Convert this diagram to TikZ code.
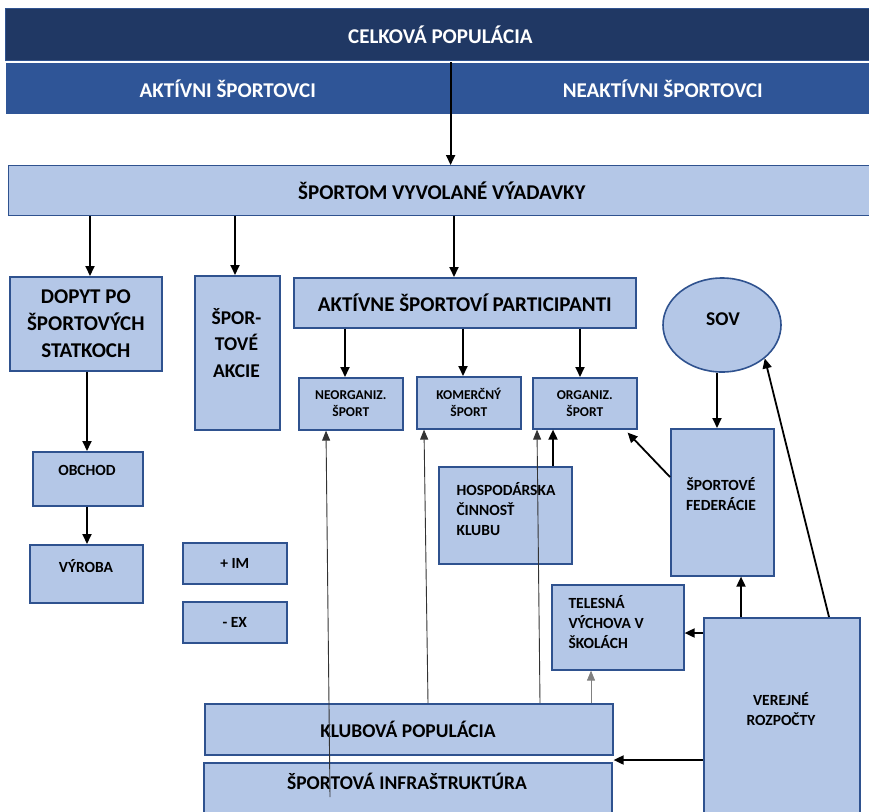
\documentclass[tikz,border=0pt]{standalone}
\usepackage{fontspec}
\setmainfont{Carlito}
\usetikzlibrary{arrows.meta,shapes.geometric}
\definecolor{navy}{HTML}{203864}
\definecolor{midblue}{HTML}{2F5597}
\definecolor{light}{HTML}{B4C7E7}
\definecolor{rim}{HTML}{2F528F}
\tikzset{
  box/.style={draw=rim, line width=1.6pt, fill=light, anchor=north west, inner sep=0pt, align=center},
  bigtxt/.style={font=\bfseries\fontsize{21}{27}\selectfont, align=center},
  midtxt/.style={font=\bfseries\fontsize{19.5}{26.5}\selectfont, align=center},
  smalltxt/.style={font=\bfseries\fontsize{15.5}{20}\selectfont, align=center},
  tinytxt/.style={font=\bfseries\fontsize{13.5}{17}\selectfont, align=center},
  arr/.style={-{Triangle[length=10pt,width=9pt]}, line width=1.8pt},
  slim/.style={-{Triangle[length=10pt,width=8pt]}, line width=0.9pt, black!80},
}
\begin{document}
\begin{tikzpicture}[x=1pt,y=-1pt]
    \useasboundingbox (0,0) rectangle (869,811);
    \clip (0,0) rectangle (869,811);
    \node[box, fill=navy, line width=0.8pt, text=white, bigtxt, minimum width=870pt, minimum height=52pt] (celk) at (5,8) {CELKOVÁ POPULÁCIA};
    \node[box, fill=midblue, draw=none, text=white, bigtxt, minimum width=444pt, minimum height=51pt] (akt) at (5,62) {AKTÍVNI ŠPORTOVCI};
    \node[box, fill=midblue, draw=none, text=white, bigtxt, minimum width=426pt, minimum height=51pt] (neakt) at (449,62) {NEAKTÍVNI ŠPORTOVCI};
    \node[box, line width=0.8pt, bigtxt, minimum width=867pt, minimum height=50pt] (vyd) at (8,165) {ŠPORTOM VYVOLANÉ VÝADAVKY};
    \node[box, bigtxt, minimum width=152pt, minimum height=94pt] (dopyt) at (9,276) {DOPYT PO\\ŠPORTOVÝCH\\STATKOCH};
    \node[box, minimum width=85pt, minimum height=154pt] (akcie) at (194,275) {};
    \node[midtxt] at (236.5,343) {ŠPOR-\\TOVÉ\\AKCIE};
    \node[box, bigtxt, minimum width=342pt, minimum height=50pt] (part) at (293,277) {AKTÍVNE ŠPORTOVÍ PARTICIPANTI};
    \node[ellipse, draw=rim, fill=light, line width=1.6pt, minimum width=118pt, minimum height=94pt, inner sep=0pt] (sov) at (722,325) {};
    \node[midtxt] at (723,319) {SOV};
    \node[box, tinytxt, minimum width=104pt, minimum height=52pt] (neorg) at (298,377) {NEORGANIZ.\\ŠPORT};
    \node[box, tinytxt, minimum width=104pt, minimum height=52pt] (komer) at (416,376) {KOMERČNÝ\\ŠPORT};
    \node[box, tinytxt, minimum width=104pt, minimum height=51pt] (organ) at (532,377) {ORGANIZ.\\ŠPORT};
    \node[box, minimum width=103pt, minimum height=147pt] (fed) at (670,428) {};
    \node[smalltxt] at (721,494) {ŠPORTOVÉ\\FEDERÁCIE};
    \node[box, minimum width=133pt, minimum height=97pt] (hosp) at (438,466) {};
    \node[smalltxt, align=left, anchor=west] at (453,509) {HOSPODÁRSKA\\ČINNOSŤ\\KLUBU};
    \node[box, minimum width=110pt, minimum height=54pt] (obchod) at (32,451) {};
    \node[smalltxt] at (87,470) {OBCHOD};
    \node[box, minimum width=113pt, minimum height=58pt] (vyroba) at (29,544) {};
    \node[smalltxt] at (86,566) {VÝROBA};
    \node[box, smalltxt, minimum width=104pt, minimum height=41pt] (im) at (182,542) {+ IM};
    \node[box, smalltxt, minimum width=104pt, minimum height=41pt] (ex) at (182,601) {- EX};
    \node[box, minimum width=132pt, minimum height=85pt] (tel) at (551,584) {};
    \node[smalltxt, align=left, anchor=west] at (565,622) {TELESNÁ\\VÝCHOVA V\\ŠKOLÁCH};
    \node[box, minimum width=156pt, minimum height=200pt] (ver) at (703,617) {};
    \node[smalltxt] at (781,709) {VEREJNÉ\\ROZPOČTY};
    \node[box, minimum width=408pt, minimum height=51pt] (klub) at (204,703) {};
    \node[midtxt] at (408,729) {KLUBOVÁ POPULÁCIA};
    \node[box, minimum width=408pt, minimum height=60pt] (infra) at (203,762) {};
    \node[midtxt] at (407,781) {ŠPORTOVÁ INFRAŠTRUKTÚRA};
    \coordinate (pod) at (330,797);
    \draw[arr] (akt.north east) -- (akt.north east |- vyd.north);
    \draw[arr] (vyd.south -| 90,0) -- (90,0 |- dopyt.north);
    \draw[arr] (vyd.south -| 235,0) -- (235,0 |- akcie.north);
    \draw[arr] (vyd.south -| 454,0) -- (454,0 |- part.north);
    \draw[arr] (part.south -| 345,0) -- (345,0 |- neorg.north);
    \draw[arr] (part.south -| 463,0) -- (463,0 |- komer.north);
    \draw[arr] (part.south -| 580,0) -- (580,0 |- organ.north);
    \draw[arr] (dopyt.south -| 87,0) -- (87,0 |- obchod.north);
    \draw[arr] (obchod.south -| 87,0) -- (87,0 |- vyroba.north);
    \draw[arr] (sov.south -| 717,0) -- (717,0 |- fed.north);
    \draw[arr] (fed.west |- 0,477) -- ([shift={(-10,3)}]organ.south east);
    \draw[arr] (hosp.north -| 553,0) -- (553,0 |- organ.south);
    \draw[arr] (ver.north -| 741,0) -- (741,0 |- fed.south);
    \draw[arr] (ver.north -| 829,0) -- (sov.-38);
    \draw[arr] (ver.west |- 0,633) -- (tel.east |- 0,633);
    \draw[arr] (ver.west |- 0,760) -- (klub.east |- 0,760);
    \draw[slim] (pod) -- (326,0 |- neorg.south);
    \draw[slim] (klub.north -| 428,0) -- (424,0 |- komer.south);
    \draw[slim] (klub.north -| 540,0) -- (537,0 |- organ.south);
    \draw[slim, gray] (klub.north -| 591,0) -- (591,0 |- tel.south);
\end{tikzpicture}
\end{document}
